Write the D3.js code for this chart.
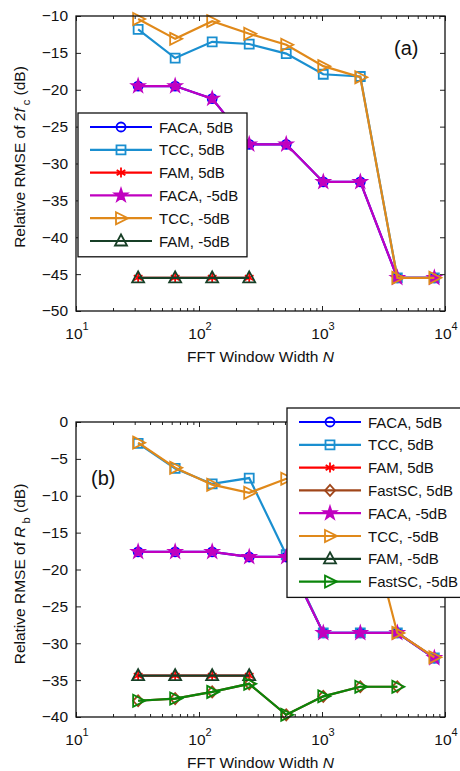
<!DOCTYPE html>
<html>
<head>
<meta charset="utf-8">
<script src="https://cdn.jsdelivr.net/npm/d3@7"></script>
<style>
  body { margin: 0; background: #fff; }
  svg { font-family: "Liberation Sans", Arial, sans-serif; }
</style>
</head>
<body>
<svg id="chart" width="460" height="771"></svg>
<script>
// window widths N
const N = [32, 64, 128, 256, 512, 1024, 2048, 4096, 8192];
const N4 = [32, 64, 128, 256];
const N8 = [32, 64, 128, 256, 512, 1024, 2048, 4096];

// panel (a): relative RMSE of 2fc (dB)
const a_faca5  = [-19.5, -19.5, -21.2, -27.4, -27.4, -32.5, -32.5, -45.5, -45.5];
const a_tcc5   = [-11.8, -15.7, -13.5, -13.8, -15.1, -17.9, -18.2, -45.5, -45.5];
const a_fam5   = [-45.5, -45.5, -45.5, -45.5];
const a_facaM5 = [-19.5, -19.5, -21.2, -27.4, -27.4, -32.5, -32.5, -45.5, -45.5];
const a_tccM5  = [-10.4, -13.1, -10.7, -12.4, -13.9, -16.8, -18.3, -45.5, -45.5];
const a_famM5  = [-45.5, -45.5, -45.5, -45.5];

// panel (b): relative RMSE of Rb (dB)
const b_faca5    = [-17.6, -17.6, -17.6, -18.3, -18.3, -28.6, -28.6, -28.6, -32.0];
const b_tcc5     = [-2.9, -6.3, -8.4, -7.6, -18.0, -28.6, -28.6, -28.6, -32.0];
const b_fam5     = [-34.4, -34.4, -34.4, -34.4];
const b_fastsc5  = [-37.8, -37.5, -36.6, -35.5, -39.7, -37.2, -35.9, -35.9];
const b_facaM5   = [-17.6, -17.6, -17.6, -18.3, -18.3, -28.6, -28.6, -28.6, -32.0];
const b_tccM5    = [-2.8, -6.2, -8.5, -9.6, -7.7, -8.3, -9.2, -28.6, -31.9];
const b_famM5    = [-34.4, -34.4, -34.4, -34.4];
const b_fastscM5 = [-37.8, -37.5, -36.6, -35.5, -39.7, -37.2, -35.9, -35.9];

const yTicksA = [-50, -45, -40, -35, -30, -25, -20, -15, -10];
const yTicksB = [-40, -35, -30, -25, -20, -15, -10, -5, 0];
const xDecades = [10, 100, 1000, 10000];

const svg = d3.select("#chart");

// marker shapes
const sym = {
  circle: d3.symbol(d3.symbolCircle, 64)(),
  square: "M-4.5,-4.5H4.5V4.5H-4.5Z",
  asterisk: d3.symbol(d3.symbolAsterisk, 70)(),
  star: d3.symbol(d3.symbolStar, 48)(),
  triRight: "M-5,-6L7,0L-5,6Z",
  triUp: "M0,-6.5L6,4.5L-6,4.5Z",
  diamond: "M0,-5.5L5,0L0,5.5L-5,0Z"
};

const styles = {
  faca5:    { label: "FACA, 5dB",    color: "#0000ff", marker: "circle", fill: "none" },
  tcc5:     { label: "TCC, 5dB",     color: "#1a8fd0", marker: "square", fill: "none" },
  fam5:     { label: "FAM, 5dB",     color: "#ff0000", marker: "asterisk", fill: "none" },
  fastsc5:  { label: "FastSC, 5dB",  color: "#a0461a", marker: "diamond", fill: "none" },
  facaM5:   { label: "FACA, -5dB",   color: "#c000c0", marker: "star", fill: "#c000c0" },
  tccM5:    { label: "TCC, -5dB",    color: "#e0891a", marker: "triRight", fill: "none" },
  famM5:    { label: "FAM, -5dB",    color: "#173f26", marker: "triUp", fill: "none" },
  fastscM5: { label: "FastSC, -5dB", color: "#0a850a", marker: "triRight", fill: "none" }
};

const x = d3.scaleLog().domain([10, 10000]).range([76, 445]);

function drawPanel(cfg) {
  const y = d3.scaleLinear().domain(cfg.yDomain).range(cfg.yRange);
  const g = svg.append("g");
  const [x0, x1] = x.range();
  const [yb, yt] = y.range();

  const minor = [];
  for (let d = 10; d < 10000; d *= 10)
    for (let k = 2; k <= 9; k++) minor.push(d * k);

  // ticks (inward)
  g.append("g").attr("transform", `translate(0,${yb})`)
    .call(d3.axisBottom(x).tickValues(xDecades).tickSize(-5).tickFormat(""));
  g.append("g").attr("transform", `translate(0,${yb})`)
    .call(d3.axisBottom(x).tickValues(minor).tickSize(-3).tickFormat(""));
  g.append("g").attr("transform", `translate(0,${yt})`)
    .call(d3.axisTop(x).tickValues(xDecades).tickSize(-5).tickFormat(""));
  g.append("g").attr("transform", `translate(0,${yt})`)
    .call(d3.axisTop(x).tickValues(minor).tickSize(-3).tickFormat(""));
  g.append("g").attr("transform", `translate(${x0},0)`)
    .call(d3.axisLeft(y).tickValues(cfg.yTicks).tickSize(-5).tickPadding(8).tickFormat(d3.format("d")))
    .call(a => a.selectAll("text").attr("font-size", 15.5).attr("fill", "#111")
      .attr("font-family", "Liberation Sans, Arial, sans-serif"));
  g.append("g").attr("transform", `translate(${x1},0)`)
    .call(d3.axisRight(y).tickValues(cfg.yTicks).tickSize(-5).tickFormat(""));
  g.selectAll(".domain").remove();
  g.selectAll(".tick line").attr("stroke", "#222");

  // decade labels 10^k
  xDecades.forEach(v => {
    const t = g.append("text").attr("x", x(v) + 1).attr("y", yb + 28)
      .attr("text-anchor", "middle").attr("font-size", 15.5).attr("fill", "#111");
    t.append("tspan").text("10");
    t.append("tspan").attr("dy", -9).attr("font-size", 11).text(Math.round(Math.log10(v)));
  });

  // series
  const clip = "clip" + cfg.id;
  g.append("clipPath").attr("id", clip).append("rect")
    .attr("x", x0 - 8).attr("y", yt - 8).attr("width", x1 - x0 + 16).attr("height", yb - yt + 16);
  const plot = g.append("g").attr("clip-path", `url(#${clip})`);
  const line = d3.line().x(d => x(d[0])).y(d => y(d[1]));
  cfg.series.forEach(s => {
    const st = styles[s.key];
    const pts = s.x.map((n, i) => [n, s.y[i]]);
    plot.append("path").attr("d", line(pts)).attr("fill", "none")
      .attr("stroke", st.color).attr("stroke-width", 2.2);
    plot.selectAll(null).data(pts).join("path")
      .attr("transform", d => `translate(${x(d[0])},${y(d[1])})`)
      .attr("d", sym[st.marker]).attr("fill", st.fill)
      .attr("stroke", st.color).attr("stroke-width", 1.8);
  });

  // frame
  g.append("rect").attr("x", x0).attr("y", yt).attr("width", x1 - x0).attr("height", yb - yt)
    .attr("fill", "none").attr("stroke", "#111").attr("stroke-width", 1.3);

  // axis titles
  const xl = g.append("text").attr("x", (x0 + x1) / 2).attr("y", yb + 51)
    .attr("text-anchor", "middle").attr("font-size", 15.5).attr("fill", "#111");
  xl.append("tspan").text("FFT Window Width  ");
  xl.append("tspan").attr("font-style", "italic").text("N");

  const yl = g.append("text")
    .attr("transform", `translate(25,${cfg.yLabelMid}) rotate(-90)`)
    .attr("text-anchor", "middle").attr("font-size", 15.5).attr("fill", "#111");
  cfg.yLabel(yl);

  g.append("text").attr("x", cfg.tag[0]).attr("y", cfg.tag[1])
    .attr("font-size", 20).attr("fill", "#111").text(cfg.tagText);

  // legend
  const lg = g.append("g").attr("transform", `translate(${cfg.legend[0]},${cfg.legend[1]})`);
  const rowH = 22.8;
  const keys = cfg.series.map(s => s.key);
  lg.append("rect").attr("x", 0).attr("y", 0).attr("width", cfg.legend[2])
    .attr("height", keys.length * rowH + 7).attr("fill", "#fff")
    .attr("stroke", "#111").attr("stroke-width", 1.3);
  keys.forEach((k, i) => {
    const st = styles[k];
    const ry = 14 + i * rowH;
    lg.append("line").attr("x1", 12).attr("x2", 74).attr("y1", ry).attr("y2", ry)
      .attr("stroke", st.color).attr("stroke-width", 2.2);
    lg.append("path").attr("transform", `translate(43,${ry})`).attr("d", sym[st.marker])
      .attr("fill", st.fill).attr("stroke", st.color).attr("stroke-width", 1.8);
    lg.append("text").attr("x", 81).attr("y", ry + 5.5).attr("font-size", 15)
      .attr("fill", "#111").text(st.label);
  });
}

drawPanel({
  id: "a",
  yDomain: [-50, -10], yRange: [311, 16], yTicks: yTicksA, yLabelMid: 157,
  tag: [394, 55], tagText: "(a)",
  legend: [78, 113, 169],
  yLabel: t => {
    t.append("tspan").text("Relative RMSE of  2");
    t.append("tspan").attr("font-style", "italic").text("f");
    t.append("tspan").attr("dy", 5).attr("font-size", 11).text(" c");
    t.append("tspan").attr("dy", -5).text(" (dB)");
  },
  series: [
    { key: "faca5", x: N, y: a_faca5 },
    { key: "tcc5", x: N, y: a_tcc5 },
    { key: "fam5", x: N4, y: a_fam5 },
    { key: "facaM5", x: N, y: a_facaM5 },
    { key: "tccM5", x: N, y: a_tccM5 },
    { key: "famM5", x: N4, y: a_famM5 }
  ]
});

drawPanel({
  id: "b",
  yDomain: [-40, 0], yRange: [717, 422], yTicks: yTicksB, yLabelMid: 574,
  tag: [91, 485], tagText: "(b)",
  legend: [287, 408, 190],
  yLabel: t => {
    t.append("tspan").text("Relative RMSE of ");
    t.append("tspan").attr("font-style", "italic").text("R");
    t.append("tspan").attr("dy", 5).attr("font-size", 11).text(" b");
    t.append("tspan").attr("dy", -5).text(" (dB)");
  },
  series: [
    { key: "faca5", x: N, y: b_faca5 },
    { key: "tcc5", x: N, y: b_tcc5 },
    { key: "fam5", x: N4, y: b_fam5 },
    { key: "fastsc5", x: N8, y: b_fastsc5 },
    { key: "facaM5", x: N, y: b_facaM5 },
    { key: "tccM5", x: N, y: b_tccM5 },
    { key: "famM5", x: N4, y: b_famM5 },
    { key: "fastscM5", x: N8, y: b_fastscM5 }
  ]
});
</script>
</body>
</html>
